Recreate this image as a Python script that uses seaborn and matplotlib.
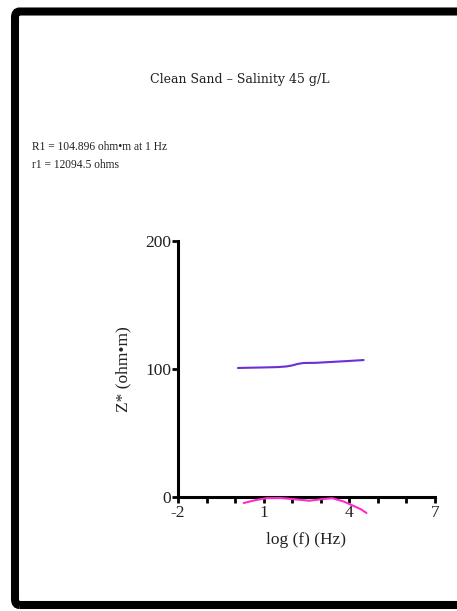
import matplotlib
matplotlib.use("Agg")
import matplotlib.pyplot as plt
import seaborn as sns
import pandas as pd
from matplotlib.patches import FancyBboxPatch

# Data
log_f_real = [0.1, 0.5, 1.0, 1.5, 1.8, 2.0, 2.2, 2.4, 2.8, 3.2, 3.6, 4.0, 4.5]
z_real = [100.8, 101.0, 101.2, 101.5, 102.0, 102.8, 104.0, 104.7, 104.8, 105.3, 105.8, 106.3, 107.0]

log_f_imag = [0.3, 0.7, 1.1, 1.6, 2.1, 2.6, 3.0, 3.4, 3.8, 4.1, 4.4, 4.6]
z_imag = [-4.7, -2.5, -0.9, -0.8, -1.8, -2.9, -1.8, -0.9, -3.5, -6.5, -9.5, -12.5]

title = "Clean Sand \u2013 Salinity 45 g/L"
note1 = "R1 = 104.896 ohm\u2022m at 1 Hz"
note2 = "r1 = 12094.5 ohms"
x_ticks = [-2, -1, 0, 1, 2, 3, 4, 5, 6, 7]
x_ticklabels = ["-2", "", "", "1", "", "", "4", "", "", "7"]
y_ticks = [0, 100, 200]

sns.set_theme(style="ticks")
plt.rcParams['font.family'] = ['Liberation Serif', 'DejaVu Serif']

W, H = 457, 611
fig = plt.figure(figsize=(W / 100, H / 100), dpi=100)

# page frame
frame = FancyBboxPatch((15 / W, 6 / H), 480 / W, (605 - 11.5) / H,
                       boxstyle="round,pad=0,rounding_size=0.01",
                       transform=fig.transFigure, fill=False,
                       edgecolor="black", linewidth=5.8, clip_on=False)
fig.patches.append(frame)

ax = fig.add_axes([178 / W, (H - 497) / H, (435 - 178) / W, (497 - 241) / H])

df_r = pd.DataFrame({"logf": log_f_real, "z": z_real})
df_i = pd.DataFrame({"logf": log_f_imag, "z": z_imag})
sns.lineplot(data=df_r, x="logf", y="z", ax=ax, color="#6B2FD6", linewidth=1.5)
sns.lineplot(data=df_i, x="logf", y="z", ax=ax, color="#FF2ACB", linewidth=1.5)
for ln in ax.lines:
    ln.set_clip_on(False)
    ln.set_zorder(4)

ax.set_xlim(-2, 7)
ax.set_ylim(0, 200)
ax.set_xticks(x_ticks)
ax.set_xticklabels(x_ticklabels)
ax.set_yticks(y_ticks)
ax.set_yticklabels([str(v) for v in y_ticks])
for s in ["top", "right"]:
    ax.spines[s].set_visible(False)
for s in ["left", "bottom"]:
    ax.spines[s].set_linewidth(2.2)
    ax.spines[s].set_color("black")
ax.tick_params(axis="both", which="both", bottom=True, left=True, direction="out",
               length=4, width=2.0, color="black",
               labelsize=12.5, labelcolor="#222222", pad=1)
ax.tick_params(axis="x", pad=2)
ax.set_xlabel("log (f) (Hz)", fontsize=12.5, labelpad=8, color="#222222")
ax.set_ylabel("Z* (ohm\u2022m)", fontsize=12.5, labelpad=10, color="#222222")
ax.set_facecolor("none")

fig.text(240 / W, 1 - 80 / H, title, ha="center", va="center", fontsize=9,
         family=['DejaVu Serif'], color="#222222")
fig.text(32 / W, 1 - 147 / H, note1, ha="left", va="center", fontsize=8.3, color="#222222")
fig.text(32 / W, 1 - 165 / H, note2, ha="left", va="center", fontsize=8.3, color="#222222")

fig.savefig("out.png", dpi=100)
